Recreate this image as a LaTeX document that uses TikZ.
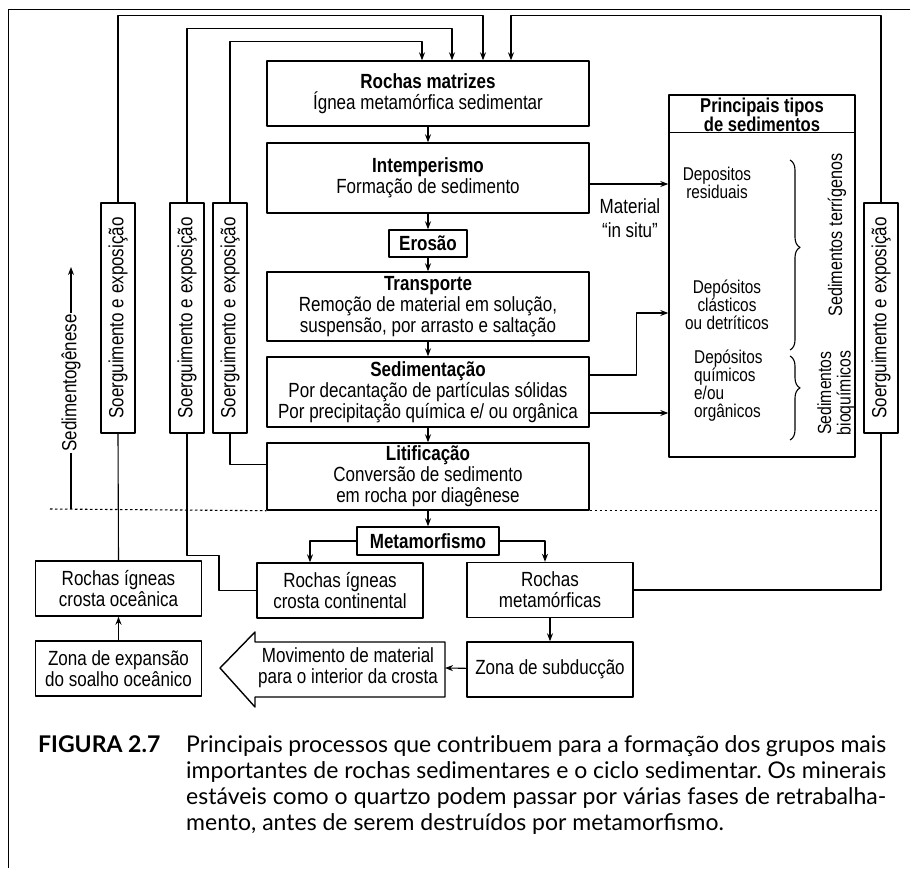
\documentclass[tikz,border=0pt]{standalone}
\usepackage{fontspec}
\setmainfont{Liberation Sans}[FakeStretch=0.83]
\newfontfamily\capfont{Lato}
\usetikzlibrary{arrows.meta,calc,decorations.pathreplacing}

\begin{document}
\begin{tikzpicture}[x=1pt,y=-1pt,line join=round,>={Stealth[length=8pt,width=6pt]},
	every node/.style={font=\fontsize{20.5}{21}\selectfont},
	box/.style={draw,line width=1.4pt,inner sep=0pt,align=center},
	lnk/.style={line width=1.1pt},
	wide/.style={box,minimum width=322pt},
	small/.style={box,minimum width=166pt,minimum height=55pt},
	up/.style={box,rotate=90,minimum width=230pt,minimum height=34pt},
	sm/.style={align=center,font=\fontsize{18.5}{18}\selectfont}]
	\useasboundingbox (0,0) rectangle (910,868);
	\draw[line width=0.8pt] (8,868) -- (8,9) -- (910,9);
	
	\node[wide,minimum height=65pt] (rm) at (428,93.5) {\textbf{Rochas matrizes}\\Ígnea metamórfica sedimentar};
	\node[wide,minimum height=70pt] (int) at (428,178) {\textbf{Intemperismo}\\Formação de sedimento};
	\node[box,minimum width=78pt,minimum height=27pt] (ero) at (428,243.5) {\textbf{Erosão}};
	\node[wide,minimum height=69pt] (tra) at (428,306.5) {\textbf{Transporte}\\Remoção de material em solução,\\suspensão, por arrasto e saltação};
	\node[wide,minimum height=70pt] (sed) at (428,392) {\textbf{Sedimentação}\\Por decantação de partículas sólidas\\Por precipitação química e/ ou orgânica};
	\node[wide,minimum height=67pt] (lit) at (428,476.5) {\textbf{Litificação}\\Conversão de sedimento\\em rocha por diagênese};
	\node[box,minimum width=142pt,minimum height=28pt] (met) at (428,541) {\textbf{Metamorfismo}};
	\node[small] (igo) at (118.5,588.5) {Rochas ígneas\\crosta oceânica};
	\node[small] (igc) at (340,590.5) {Rochas ígneas\\crosta continental};
	\node[small] (rme) at (550,590) {Rochas\\metamórficas};
	\node[small] (zex) at (118.5,668.5) {Zona de expansão\\do soalho oceânico};
	\node[small] (zsu) at (550,669.5) {Zona de subducção};
	
	\draw[line width=1.4pt] (220,668) -- (255,632) -- (255,642) -- (445,642) -- (445,697) -- (255,697) -- (255,707) -- cycle;
	\node[align=center] (mov) at (348,668) {Movimento de material\\para o interior da crosta};
	\coordinate (movR) at (445,668);
	
	\node[up] (sA) at (118,318) {Soerguimento e exposição};
	\node[up] (sB) at (187,318) {Soerguimento e exposição};
	\node[up] (sC) at (230,318) {Soerguimento e exposição};
	\node[up] (sD) at (881,318) {Soerguimento e exposição};
	
	\node[box,minimum width=186pt,minimum height=362pt] (pst) at (762,276) {};
	\draw[line width=1.4pt] ($(pst.north west)+(0,38)$) -- ($(pst.north east)+(0,38)$);
	\node[sm,font=\bfseries\fontsize{20}{17}\selectfont] (pcab) at (762,115) {Principais tipos\\de sedimentos};
	\node[sm] (dres) at (717,183) {Depositos\\residuais};
	\node[sm] (dcla) at (727,305) {Depósitos\\clásticos\\ou detríticos};
	\node[sm,align=left,anchor=west,inner sep=0pt] (dqui) at (694,386) {Depósitos\\químicos\\e/ou\\orgânicos};
	\draw[lnk,decorate,decoration={brace,amplitude=10pt,aspect=0.46}] (790,160) -- (790,350);
	\draw[lnk,decorate,decoration={brace,amplitude=10pt,aspect=0.38}] (790,356) -- (790,440);
	\node[sm,rotate=90,font=\fontsize{19.5}{18}\selectfont] (sterr) at (837,235) {Sedimentos terrígenos};
	\node[sm,rotate=90,font=\fontsize{19}{19.5}\selectfont] (sbio) at (836,393) {Sedimentos\\bioquímicos};
	\node[align=center,font=\fontsize{20.5}{24}\selectfont] (insitu) at (630,218) {Material\\“in situ”};
	
	\node[rotate=90,inner xsep=1pt] (sgen) at (71,383) {Sedimentogênese};
	\coordinate (sgTop) at (71,267);
	\coordinate (sgBot) at (71,509);
	\coordinate (dl) at (50,509);
	\draw[lnk,->] (sgen.east) -- (sgTop);
	\draw[lnk] (sgen.west) -- (sgBot);
	\draw[lnk,dash pattern=on 2.5pt off 2.5pt] (dl) -- (lit.south west);
	\draw[lnk,dash pattern=on 2.5pt off 2.5pt] (lit.south east) -- (lit.south -| sD.west);
	
	\foreach \a/\b in {rm/int,int/ero,ero/tra,tra/sed,sed/lit,lit/met}
		\draw[lnk,->] (\a.south) -- (\b.north);
	\draw[lnk,->] ($(int.east)+(0,6)$) -- ($(int.east -| pst.west)+(0,6)$);
	\draw[lnk,->] ($(sed.east)+(0,-17)$) -- ++(47,0) |- ($(pst.west)+(0,37)$);
	\draw[lnk,->] ($(sed.east)+(0,21)$) -- ($(sed.east -| pst.west)+(0,21)$);
	\draw[lnk,->] (met.west) -| ($(igc.north)+(-30,0)$);
	\draw[lnk,->] (met.east) -| ($(rme.north)+(-5,0)$);
	\draw[lnk,->] (rme) -- (zsu);
	\draw[lnk,->] (zsu) -- (movR);
	\draw[lnk,->] (zex) -- (igo);
	
	\draw[lnk] (igo.north) -- (sA.west);
	\draw[lnk,->] (sA.east) |- ($(rm.north)+(55,-45)$) -- ($(rm.north)+(55,0)$);
	\draw[lnk] (igc.west) -| ($(sB.west)+(32,122)$) -| (sB.west);
	\draw[lnk,->] (sB.east) |- ($(rm.north)+(24,-32)$) -- ($(rm.north)+(24,0)$);
	\draw[lnk] ($(lit.west)+(0,-12)$) -| (sC.west);
	\draw[lnk,->] (sC.east) |- ($(rm.north)+(-6,-19)$) -- ($(rm.north)+(-6,0)$);
	\draw[lnk] (rme.east) -| (sD.west);
	\draw[lnk,->] (sD.east) |- ($(rm.north)+(83,-45)$) -- ($(rm.north)+(83,0)$);
	
	\node[anchor=north west,inner sep=0pt,font=\capfont\bfseries\fontsize{23}{26}\selectfont] (fig) at (38,735) {FIGURA 2.7};
	\node[anchor=north west,inner sep=0pt,text width=700pt,align=justify,font=\capfont\fontsize{23}{26}\selectfont] (leg) at (186,735) {\hyphenpenalty=10000\frenchspacing Principais processos que contribuem para a formação dos grupos mais\linebreak importantes de rochas sedimentares e o ciclo sedimentar. Os minerais\linebreak estáveis como o quartzo podem passar por várias fases de retrabalha-\linebreak mento, antes de serem destruídos por metamorfismo.};
\end{tikzpicture}
\end{document}
